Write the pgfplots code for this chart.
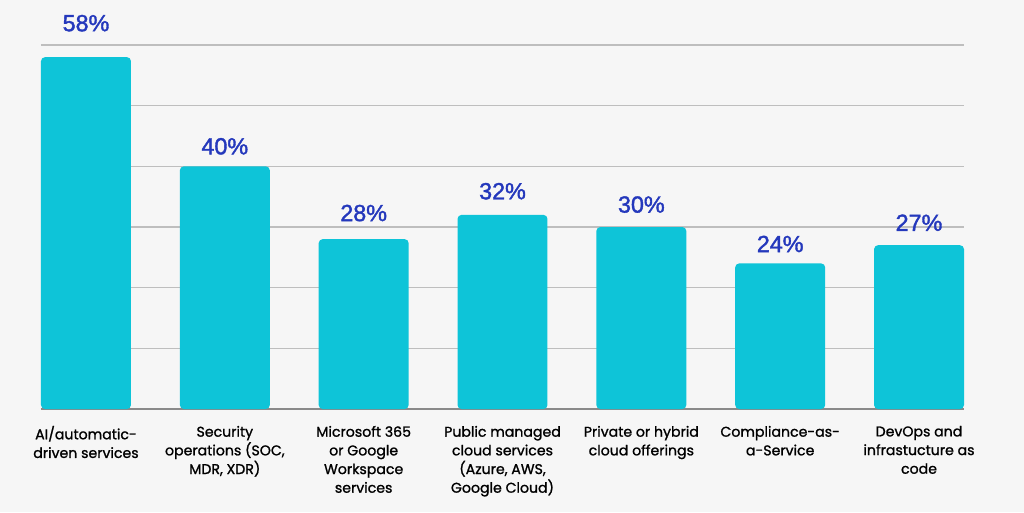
\documentclass[border=0pt]{standalone}
\usepackage{fontspec}
\setmainfont{Poppins}
\newfontfamily\labfont[FakeBold=1.2]{Poppins}
\newfontfamily\valfont[FakeBold=1.6]{Liberation Sans}
\usepackage{pgfplots}
\pgfplotsset{compat=1.18}
\definecolor{bg}{HTML}{F6F6F6}
\definecolor{barc}{HTML}{0EC4D8}
\definecolor{valc}{HTML}{2438BC}
\definecolor{gridc}{HTML}{BEBEBE}
\definecolor{basec}{HTML}{8A8A8A}
\begin{document}
\begin{tikzpicture}[x=0.75pt,y=0.75pt]
\fill[bg] (-41,-103) rectangle (983,409);
\begin{axis}[
  at={(0,0)}, anchor=south west,
  scale only axis, width=692.25pt, height=273pt,
  xmin=-0.324, xmax=6.324, ymin=0, ymax=60,
  clip=false,
  axis line style={draw=none},
  tick style={draw=none},
  ytick={10,20,30,40,50,60},
  yticklabels={},
  ymajorgrids,
  grid style={gridc, line width=0.8pt},
  extra y ticks={0},
  extra y tick labels={},
  extra y tick style={grid style={basec, line width=0.8pt}},
  xtick={0,1,2,3,4,5,6},
  xticklabels={
    {AI/automatic-\\driven services},
    {Security\\operations (SOC,\\MDR, XDR)},
    {Microsoft 365\\or Google\\Workspace\\services},
    {Public managed\\cloud services\\(Azure, AWS,\\Google Cloud)},
    {Private or hybrid\\cloud offerings},
    {Compliance-as-\\a-Service},
    {DevOps and\\infrastucture as\\code}},
  xticklabel style={align=center, font=\labfont\fontsize{10.6}{14}\selectfont, anchor=north, inner sep=0pt, yshift=-12.5pt, text=black},
]
\addplot[ybar, bar width=0.648, fill=barc, draw=none, rounded corners=3pt]
  coordinates {(0,58) (1,40) (2,28) (3,32) (4,30) (5,24) (6,27)};
\addplot[draw=none, nodes near coords, point meta=explicit symbolic,
  nodes near coords style={anchor=center, font=\valfont\fontsize{17.5}{20}\selectfont, text=valc}]
  coordinates {(0,63.6)[58\%] (1,43.3)[40\%] (2,32.3)[28\%] (3,35.9)[32\%] (4,33.7)[30\%] (5,27.2)[24\%] (6,30.7)[27\%]};
\end{axis}
\pgfresetboundingbox
\path (-41,-103) rectangle (983,409);
\end{tikzpicture}
\end{document}
